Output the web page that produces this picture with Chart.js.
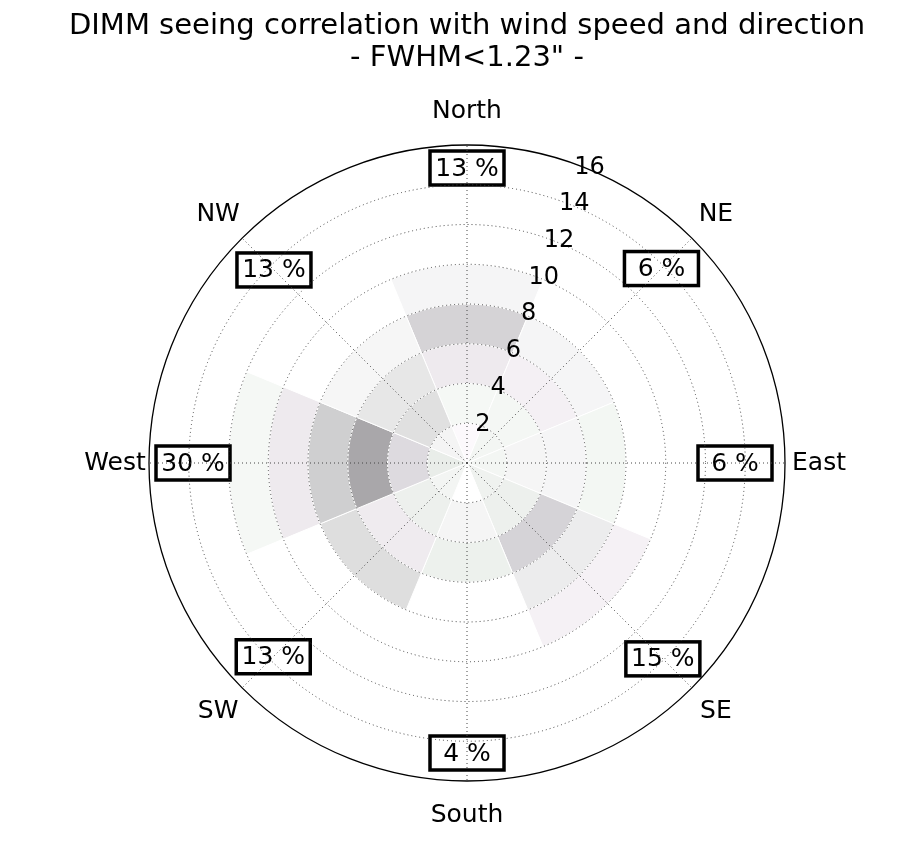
<!DOCTYPE html>
<html>
<head>
<meta charset="utf-8">
<script src="https://cdn.jsdelivr.net/npm/chart.js@4/dist/chart.umd.min.js"></script>
<style>
body{margin:0;background:#fff;}
#wrap{width:897px;height:846px;}
</style>
</head>
<body>
<div id="wrap"><canvas id="myChart"></canvas></div>
<script>
// wind directions (sector centres, clockwise from north)
var directions = ['North', 'NE', 'East', 'SE', 'South', 'SW', 'West', 'NW'];
// wind speed bins, outer edge of each ring
var speedBins = [2, 4, 6, 8, 10, 12, 14, 16];
// share of good-seeing nights per direction
var percents = [13, 6, 6, 15, 4, 13, 30, 13];
var titleLines = ['DIMM seeing correlation with wind speed and direction', '- FWHM<1.23" -'];

// cell shade per speed bin (0-2, 2-4, ... 14-16), null = no data
var colN  = ['#fcf9fc', '#f5f8f5', '#eeeaee', '#d5d3d6', '#f5f5f6', null, null, null];
var colNE = ['#f3f6f3', '#f4f7f4', '#f4f0f4', '#f5f5f6', null, null, null, null];
var colE  = ['#f3f6f3', '#f5f5f5', '#f5f5f6', '#f3f7f3', null, null, null, null];
var colSE = ['#eff2ef', '#edf0ed', '#d5d3d7', '#ececed', '#f5f1f5', null, null, null];
var colS  = [null, '#f5f5f5', '#edf1ed', null, null, null, null, null];
var colSW = ['#f3f5f3', '#edf0ed', '#efebef', '#dedede', null, null, null, null];
var colW  = ['#e9ede9', '#dddadf', '#a9a7aa', '#cfcfd0', '#eeeaee', '#f5f8f5', null, null];
var colNW = ['#f4f4f4', '#e0e0e0', '#e7e7e7', '#f6f6f6', null, null, null, null];
var cellColors = [colN, colNE, colE, colSE, colS, colSW, colW, colNW];

var datasets = [];
for (var k = 0; k < speedBins.length; k++) {
    var vals = [];
    var fills = [];
    for (var d = 0; d < cellColors.length; d++) {
        var last = -1;
        for (var j = 0; j < cellColors[d].length; j++) {
            if (cellColors[d][j]) last = j;
        }
        vals.push(k <= last ? speedBins[k] : 0);
        fills.push(cellColors[d][k] || '#ffffff');
    }
    // index 0 is drawn last, so inner rings sit on top of outer ones
    datasets.push({
        label: speedBins[k],
        data: vals,
        backgroundColor: fills,
        borderColor: '#ffffff',
        borderWidth: 1
    });
}

var FONT = 'DejaVu Sans';
var boxOffset = [23, 43, 50, 41, 28, 44, 44, 45]; // px inside the outer ring

var decorations = {
    id: 'decorations',
    afterDatasetsDraw: function (chart) {
        var r = chart.scales.r;
        var ctx = chart.ctx;
        ctx.save();
        ctx.font = '25px "' + FONT + '"';
        ctx.textAlign = 'center';
        ctx.textBaseline = 'middle';
        for (var i = 0; i < directions.length; i++) {
            var p = r.getPointPosition(i, r.drawingArea - boxOffset[i], Math.PI / 8);
            ctx.fillStyle = '#ffffff';
            ctx.fillRect(p.x - 37, p.y - 17, 74, 34);
            ctx.lineWidth = 3.5;
            ctx.strokeStyle = '#000000';
            ctx.strokeRect(p.x - 37, p.y - 17, 74, 34);
            ctx.fillStyle = '#000000';
            ctx.fillText(percents[i] + ' %', p.x, p.y + 1);
        }
        ctx.restore();
    },
    afterDraw: function (chart) {
        var r = chart.scales.r;
        var ctx = chart.ctx;
        ctx.save();
        // dotted spokes through the sector centres
        ctx.strokeStyle = '#444444';
        ctx.lineWidth = 1;
        ctx.setLineDash([1, 3]);
        for (var i = 0; i < directions.length; i++) {
            var e = r.getPointPosition(i, r.drawingArea, Math.PI / 8);
            ctx.beginPath();
            ctx.moveTo(r.xCenter, r.yCenter);
            ctx.lineTo(e.x, e.y);
            ctx.stroke();
        }
        ctx.setLineDash([]);
        ctx.fillStyle = '#000000';
        ctx.textAlign = 'center';
        ctx.textBaseline = 'middle';
        // radial tick labels along the 22.5 deg line
        ctx.font = '24px "' + FONT + '"';
        for (var t = 0; t < speedBins.length; t++) {
            var q = r.getPointPosition(1, r.getDistanceFromCenterForValue(speedBins[t]) + 2);
            ctx.fillText(String(speedBins[t]), q.x, q.y);
        }
        // compass labels
        ctx.font = '25px "' + FONT + '"';
        for (var n = 0; n < directions.length; n++) {
            var s = r.getPointPosition(n, r.drawingArea + 34, Math.PI / 8);
            ctx.fillText(directions[n], s.x, s.y);
        }
        // title, centred over the plot
        ctx.font = '29px "' + FONT + '"';
        ctx.fillText(titleLines[0], r.xCenter, 26);
        ctx.fillText(titleLines[1], r.xCenter, 58);
        ctx.restore();
    }
};

var ctx = document.getElementById('myChart').getContext('2d');
var myChart = new Chart(ctx, {
    type: 'polarArea',
    data: {
        labels: directions,
        datasets: datasets
    },
    options: {
        responsive: true,
        maintainAspectRatio: false,
        animation: false,
        layout: {
            padding: { top: 145, left: 149, right: 112, bottom: 65 }
        },
        scales: {
            r: {
                min: 0,
                max: 16,
                startAngle: -22.5,
                ticks: { display: false, stepSize: 2 },
                angleLines: { display: false },
                pointLabels: { display: false },
                grid: {
                    z: 1,
                    circular: true,
                    color: function (c) { return c.tick.value == 16 ? '#000000' : '#444444'; },
                    lineWidth: function (c) { return c.tick.value == 16 ? 1.3 : 1; }
                },
                border: {
                    dash: function (c) { return c.tick && c.tick.value == 16 ? [] : [1, 3]; }
                }
            }
        },
        plugins: {
            legend: { display: false },
            tooltip: { enabled: false },
            title: { display: false }
        }
    },
    plugins: [decorations]
});
</script>
</body>
</html>
